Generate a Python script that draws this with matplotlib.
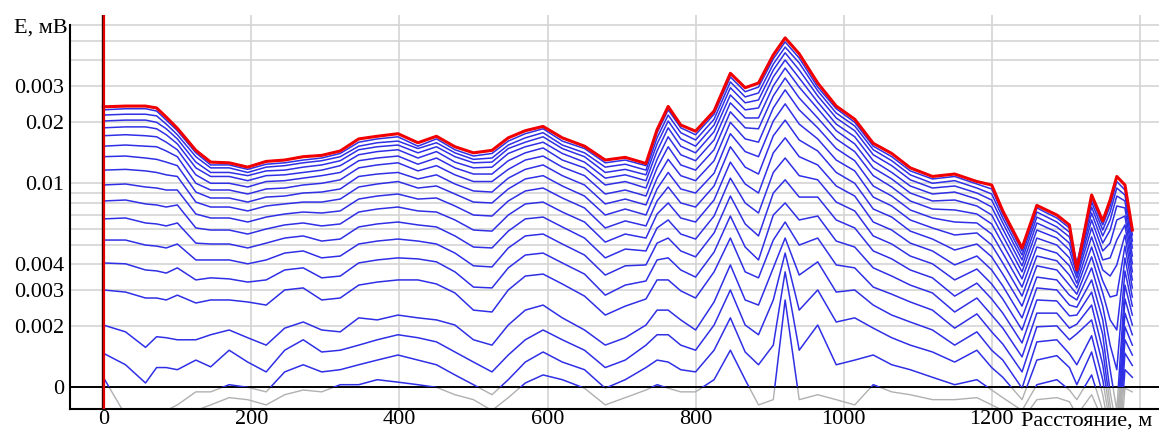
import numpy as np
import matplotlib.pyplot as plt
from matplotlib.patches import Rectangle

# пикеты профиля, м
distance = [0, 30, 57, 72, 85, 100, 125, 145, 170, 195,
            220, 245, 270, 295, 320, 345, 370, 398, 425, 450,
            475, 500, 525, 547, 570, 594, 620, 650, 678, 705,
            733, 748, 763, 780, 800, 825, 847, 867, 885, 905,
            921, 940, 965, 990, 1015, 1040, 1065, 1090, 1120, 1150,
            1180, 1200, 1215, 1241, 1261, 1288, 1305, 1315, 1335, 1350,
            1360, 1369, 1380, 1390]

# сигнал по каналам, мкВ (ch00 - первый канал, красный)
ch00 = [23.7, 23.9, 23.9, 23.4, 21.1, 18.6, 14.5, 12.7, 12.6, 12.0,
        12.8, 13.0, 13.5, 13.7, 14.4, 16.5, 17.0, 17.5, 15.8, 17.0,
        15.1, 14.1, 14.5, 16.7, 18.1, 19.0, 16.7, 15.2, 13.0, 13.4,
        12.5, 18.3, 23.8, 19.3, 18.0, 22.6, 34.6, 29.4, 31.0, 42.6,
        51.6, 43.1, 31.0, 23.9, 20.6, 15.7, 14.0, 11.9, 10.8, 11.1,
        10.2, 9.81, 7.32, 4.82, 7.79, 6.99, 6.25, 3.76, 8.76, 6.54,
        8.28, 10.8, 9.81, 5.90]
ch01 = [22.9, 23.2, 23.2, 22.6, 20.4, 18.1, 14.1, 12.3, 12.3, 11.7,
        12.4, 12.6, 13.0, 13.3, 14.0, 15.9, 16.5, 16.9, 15.2, 16.5,
        14.6, 13.6, 14.0, 16.1, 17.5, 18.5, 16.1, 14.8, 12.6, 13.0,
        12.2, 17.7, 22.9, 18.7, 17.3, 21.8, 33.2, 28.1, 29.6, 40.7,
        49.3, 41.1, 29.6, 23.2, 19.9, 15.2, 13.5, 11.5, 10.5, 10.8,
        9.92, 9.38, 7.07, 4.66, 7.57, 6.76, 6.04, 4.03, 8.47, 6.25,
        7.74, 10.2, 9.27, 5.58]
ch02 = [21.6, 21.8, 21.8, 21.4, 19.5, 17.3, 13.5, 11.9, 11.9, 11.3,
        12.0, 12.2, 12.6, 12.9, 13.5, 15.2, 15.8, 16.1, 14.8, 15.8,
        14.1, 13.1, 13.3, 15.4, 16.7, 17.7, 15.4, 14.1, 12.0, 12.4,
        11.6, 16.7, 21.6, 17.7, 16.3, 20.6, 31.4, 26.5, 27.7, 38.4,
        46.5, 38.9, 28.4, 22.1, 19.1, 14.6, 12.9, 11.0, 10.0, 10.3,
        9.48, 8.86, 6.76, 4.45, 7.23, 6.46, 5.76, 3.94, 8.09, 5.90,
        7.23, 9.48, 8.76, 5.21]
ch03 = [20.2, 20.4, 20.4, 19.9, 18.5, 16.5, 12.7, 11.3, 11.3, 10.9,
        11.5, 11.6, 12.0, 12.3, 12.9, 14.6, 15.1, 15.4, 14.1, 15.1,
        13.5, 12.6, 12.7, 14.8, 15.9, 16.9, 14.8, 13.5, 11.3, 11.7,
        11.0, 15.6, 20.2, 16.5, 15.2, 19.3, 29.4, 24.8, 25.6, 35.9,
        43.6, 35.9, 26.8, 20.9, 18.1, 13.8, 12.2, 10.4, 9.48, 9.70,
        8.96, 8.28, 6.39, 4.21, 6.83, 6.11, 5.46, 3.85, 7.65, 5.52,
        6.61, 8.66, 8.19, 4.82]
ch04 = [18.7, 18.9, 18.9, 18.5, 17.3, 15.6, 11.9, 10.8, 10.8, 10.3,
        10.9, 11.0, 11.3, 11.6, 12.2, 13.8, 14.3, 14.6, 13.3, 14.3,
        12.7, 11.9, 12.0, 14.0, 15.1, 15.9, 14.0, 12.7, 10.6, 11.0,
        10.3, 14.4, 18.7, 15.2, 14.1, 17.9, 27.1, 22.9, 23.4, 33.2,
        40.2, 32.8, 25.0, 19.5, 16.9, 12.9, 11.3, 9.70, 8.86, 9.06,
        8.37, 7.65, 5.97, 3.94, 6.39, 5.76, 5.09, 3.72, 7.15, 5.09,
        5.90, 7.74, 7.57, 4.40]
ch05 = [17.1, 17.3, 17.1, 16.9, 15.9, 14.6, 11.0, 10.0, 10.0, 9.59,
        10.2, 10.3, 10.6, 10.9, 11.3, 12.9, 13.3, 13.6, 12.4, 13.3,
        11.9, 11.1, 11.1, 12.9, 14.1, 14.9, 13.0, 11.9, 9.81, 10.2,
        9.48, 13.1, 16.9, 13.8, 12.9, 16.3, 24.8, 20.9, 20.9, 30.0,
        36.7, 29.6, 23.2, 18.1, 15.6, 11.9, 10.5, 8.96, 8.19, 8.28,
        7.74, 6.99, 5.52, 3.68, 5.90, 5.39, 4.71, 3.59, 6.61, 4.66,
        5.09, 6.61, 6.91, 4.03]
ch06 = [15.2, 15.4, 15.2, 15.1, 14.4, 13.5, 10.0, 9.27, 9.27, 8.86,
        9.38, 9.48, 9.81, 10.0, 10.4, 11.9, 12.3, 12.6, 11.5, 12.2,
        11.0, 10.2, 10.2, 11.7, 13.0, 13.6, 12.0, 10.9, 8.86, 9.27,
        8.66, 11.9, 15.1, 12.3, 11.6, 14.6, 22.4, 18.7, 18.5, 26.8,
        32.8, 26.2, 20.9, 16.5, 14.3, 10.9, 9.59, 8.19, 7.48, 7.40,
        7.07, 6.32, 5.04, 3.40, 5.39, 4.98, 4.31, 3.44, 6.04, 4.21,
        4.31, 5.27, 6.25, 3.68]
ch07 = [13.5, 13.6, 13.3, 13.1, 12.7, 12.2, 9.06, 8.47, 8.47, 8.09,
        8.56, 8.66, 8.96, 9.06, 9.38, 10.8, 11.1, 11.3, 10.5, 11.0,
        9.92, 9.17, 9.06, 10.6, 11.7, 12.3, 10.9, 9.81, 7.92, 8.37,
        7.83, 10.6, 13.1, 10.9, 10.3, 12.9, 19.9, 16.5, 15.9, 23.4,
        28.7, 22.9, 18.7, 14.8, 12.9, 9.70, 8.66, 7.40, 6.76, 6.46,
        6.39, 5.64, 4.55, 3.10, 4.87, 4.55, 3.94, 3.24, 5.46, 3.76,
        3.51, 3.98, 5.58, 3.36]
ch08 = [11.6, 11.7, 11.5, 11.3, 11.0, 10.8, 8.09, 7.65, 7.65, 7.32,
        7.74, 7.92, 8.09, 8.09, 8.37, 9.59, 9.92, 10.2, 9.48, 9.70,
        8.86, 8.09, 8.01, 9.38, 10.5, 10.9, 9.70, 8.66, 6.99, 7.48,
        6.99, 9.38, 11.3, 9.38, 8.96, 11.2, 17.5, 14.3, 13.5, 20.2,
        24.5, 19.5, 16.5, 13.0, 11.5, 8.56, 7.74, 6.61, 6.04, 5.58,
        5.71, 4.98, 4.07, 2.80, 4.40, 4.17, 3.55, 3.07, 4.87, 3.32,
        2.77, 2.83, 4.92, 3.07]
ch09 = [9.81, 9.92, 9.59, 9.48, 9.27, 9.27, 7.07, 6.76, 6.76, 6.46,
        6.83, 7.07, 7.23, 7.15, 7.32, 8.37, 8.66, 8.86, 8.37, 8.47,
        7.74, 6.99, 6.91, 8.19, 9.17, 9.48, 8.47, 7.57, 6.04, 6.54,
        6.18, 8.19, 9.59, 8.01, 7.65, 9.70, 15.1, 12.0, 11.1, 17.1,
        20.4, 16.3, 14.4, 11.3, 10.0, 7.48, 6.83, 5.83, 5.33, 4.71,
        5.04, 4.36, 3.59, 2.50, 3.94, 3.76, 3.17, 2.86, 4.36, 2.90,
        2.14, 1.91, 4.31, 2.77]
ch10 = [8.19, 8.28, 7.92, 7.83, 7.65, 7.83, 6.04, 5.90, 5.90, 5.64,
        5.97, 6.25, 6.39, 6.18, 6.32, 7.23, 7.48, 7.65, 7.32, 7.23,
        6.61, 5.90, 5.83, 6.99, 7.92, 8.09, 7.23, 6.46, 5.15, 5.64,
        5.39, 7.07, 8.01, 6.76, 6.46, 8.28, 12.7, 9.92, 8.96, 14.1,
        16.7, 13.5, 12.3, 9.70, 8.66, 6.46, 5.90, 5.09, 4.66, 3.98,
        4.40, 3.76, 3.14, 2.19, 3.47, 3.36, 2.83, 2.68, 3.85, 2.50,
        1.61, 1.22, 3.72, 2.50]
ch11 = [6.69, 6.76, 6.39, 6.32, 6.18, 6.39, 5.09, 5.04, 5.04, 4.82,
        5.09, 5.39, 5.52, 5.21, 5.33, 6.11, 6.32, 6.46, 6.25, 6.11,
        5.52, 4.87, 4.82, 5.83, 6.69, 6.83, 6.11, 5.39, 4.31, 4.76,
        4.66, 6.04, 6.61, 5.64, 5.33, 6.91, 10.6, 8.01, 7.15, 11.3,
        13.3, 10.9, 10.4, 8.09, 7.32, 5.52, 5.04, 4.40, 4.03, 3.36,
        3.80, 3.21, 2.71, 1.91, 3.07, 3.00, 2.53, 2.47, 3.36, 2.14,
        1.22, 0.77, 3.17, 2.26]
ch12 = [5.27, 5.27, 4.98, 4.92, 4.82, 5.04, 4.21, 4.21, 4.21, 4.03,
        4.21, 4.55, 4.66, 4.31, 4.40, 5.04, 5.21, 5.33, 5.21, 5.04,
        4.55, 3.94, 3.89, 4.82, 5.52, 5.64, 5.04, 4.45, 3.55, 3.94,
        3.98, 5.09, 5.39, 4.66, 4.36, 5.71, 8.66, 6.32, 5.52, 8.96,
        10.4, 8.56, 8.56, 6.61, 6.04, 4.66, 4.26, 3.76, 3.44, 2.80,
        3.24, 2.71, 2.31, 1.65, 2.68, 2.65, 2.24, 2.26, 2.93, 1.81,
        0.95, 0.62, 2.71, 2.02]
ch13 = [4.07, 4.03, 3.76, 3.72, 3.63, 3.85, 3.36, 3.44, 3.40, 3.28,
        3.36, 3.76, 3.85, 3.44, 3.51, 4.07, 4.21, 4.31, 4.26, 4.12,
        3.68, 3.10, 3.07, 3.85, 4.45, 4.55, 4.07, 3.59, 2.83, 3.17,
        3.32, 4.21, 4.31, 3.76, 3.47, 4.60, 6.91, 4.87, 4.21, 6.99,
        8.01, 6.61, 6.91, 5.21, 4.87, 3.85, 3.51, 3.17, 2.90, 2.34,
        2.74, 2.26, 1.95, 1.41, 2.31, 2.31, 1.95, 2.04, 2.53, 1.52,
        0.82, 0.55, 2.31, 1.81]
ch14 = [3.00, 2.93, 2.74, 2.74, 2.68, 2.83, 2.59, 2.68, 2.68, 2.62,
        2.53, 3.00, 3.07, 2.68, 2.74, 3.17, 3.28, 3.36, 3.36, 3.21,
        2.90, 2.39, 2.34, 3.00, 3.51, 3.59, 3.21, 2.80, 2.26, 2.50,
        2.71, 3.36, 3.36, 2.97, 2.74, 3.68, 5.39, 3.68, 3.44, 5.27,
        6.46, 4.98, 5.39, 3.98, 3.85, 3.10, 2.86, 2.62, 2.39, 1.95,
        2.29, 1.87, 1.63, 1.19, 1.98, 2.00, 1.71, 1.83, 2.14, 1.29,
        0.73, 0.49, 1.98, 1.61]
ch15 = [2.02, 1.87, 1.57, 1.77, 1.75, 1.71, 1.71, 1.81, 1.91, 1.75,
        1.61, 1.95, 2.09, 1.91, 1.87, 2.19, 2.14, 2.26, 2.19, 2.14,
        2.02, 1.71, 1.61, 2.02, 2.39, 2.53, 2.19, 1.91, 1.61, 1.75,
        2.02, 2.39, 2.39, 2.14, 1.91, 2.62, 3.98, 2.68, 2.53, 3.85,
        5.39, 3.55, 4.12, 2.93, 3.00, 2.53, 2.26, 2.09, 1.91, 1.61,
        1.87, 1.52, 1.36, 0.99, 1.67, 1.71, 1.46, 1.29, 1.79, 1.09,
        0.65, 0.44, 1.71, 1.44]
ch16 = [1.47, 1.29, 1.05, 1.25, 1.25, 1.22, 1.36, 1.26, 1.52, 1.33,
        1.19, 1.52, 1.71, 1.49, 1.52, 1.61, 1.71, 1.81, 1.75, 1.67,
        1.49, 1.33, 1.19, 1.44, 1.71, 1.91, 1.71, 1.52, 1.25, 1.36,
        1.61, 1.81, 1.81, 1.61, 1.52, 2.02, 3.00, 2.02, 1.81, 2.68,
        4.55, 2.39, 3.00, 2.09, 2.19, 1.95, 1.75, 1.61, 1.49, 1.33,
        1.52, 1.25, 1.12, 0.87, 1.36, 1.43, 1.25, 1.03, 1.49, 0.92,
        0.58, 0.39, 1.47, 1.28]
ch17 = [1.12, 0.73, 0.69, 0.73, 0.77, 0.82, 0.95, 0.95, 1.03, 1.00,
        0.95, 1.19, 1.29, 1.19, 1.22, 1.29, 1.36, 1.44, 1.36, 1.29,
        1.15, 1.03, 0.92, 1.09, 1.33, 1.49, 1.33, 1.22, 0.99, 1.09,
        1.25, 1.36, 1.33, 1.22, 1.19, 1.52, 2.19, 1.49, 1.29, 1.61,
        3.68, 1.52, 2.02, 1.29, 1.36, 1.44, 1.29, 1.22, 1.12, 1.03,
        1.09, 0.97, 0.89, 0.77, 1.03, 1.09, 0.97, 0.87, 1.15, 0.77,
        0.52, 0.35, 1.22, 1.12]
ch18 = [0.69, 0.62, 0.62, 0.62, 0.65, 0.69, 0.77, 0.82, 0.89, 0.87,
        0.82, 0.92, 0.97, 0.95, 1.03, 1.03, 1.09, 1.06, 1.03, 1.00,
        0.92, 0.87, 0.77, 0.89, 1.05, 1.15, 1.09, 0.99, 0.82, 0.89,
        0.97, 1.03, 0.99, 0.95, 0.95, 1.09, 1.52, 1.09, 0.82, 0.87,
        2.68, 0.87, 0.92, 0.87, 0.82, 1.03, 0.95, 0.92, 0.87, 0.87,
        0.89, 0.82, 0.77, 0.69, 0.87, 0.89, 0.85, 0.73, 0.92, 0.69,
        0.47, 0.31, 0.99, 0.95]

channels = [ch01, ch02, ch03, ch04, ch05, ch06, ch07, ch08, ch09,
            ch10, ch11, ch12, ch13, ch14, ch15, ch16, ch17, ch18]

ytick_vals = [0.001, 0.002, 0.003, 0.004, 0.01, 0.02, 0.03]
ytick_text = ['0', '0.002', '0.003', '0.004', '0.01', '0.02', '0.003']
xtick_vals = [0, 200, 400, 600, 800, 1000, 1200]

E0 = 0.001                 # уровень "0" на шкале
XMIN, XMAX = -45, 1426
YMIN, YMAX = 0.000783, 0.0668

plt.rcParams['font.family'] = ['Liberation Serif', 'DejaVu Serif']

W, H = 1159, 432
fig = plt.figure(figsize=(W / 100, H / 100), dpi=100)
ax = fig.add_axes([70 / W, 23 / H, (W - 70) / W, 394 / H])
ax.set_xlim(XMIN, XMAX)
ax.set_yscale('log')
ax.set_ylim(YMIN, YMAX)

# сетка
grid_kw = dict(color='#d4d4d4', lw=1.2, zorder=0)
for v in list(np.arange(2, 10) * 1e-3) + list(np.arange(1, 7) * 1e-2):
    ax.axhline(v, **grid_kw)
for v in range(200, 1401, 200):
    ax.axvline(v, **grid_kw)

# выше нуля - синим, ниже - серым
y0 = (np.log10(E0) - np.log10(YMIN)) / (np.log10(YMAX) - np.log10(YMIN))
x = np.array(distance)
for ch in channels:
    e = np.array(ch) * 1e-3
    top = Rectangle((0, y0), 1, 1 - y0, transform=ax.transAxes)
    bot = Rectangle((0, 0), 1, y0, transform=ax.transAxes)
    ln, = ax.plot(x, e, color='#2f2fe6', lw=1.1, zorder=3)
    ln.set_clip_path(top)
    lg, = ax.plot(x, e, color='#b0b0b0', lw=1.0, zorder=2)
    lg.set_clip_path(bot)

ax.plot(x, np.array(ch00) * 1e-3, color='#f00000', lw=2.2, zorder=5)

ax.axhline(E0, color='black', lw=1.4, zorder=2.5)
ax.axvline(-1.3, color='#300000', lw=1.0, zorder=6)
ax.axvline(0.6, color='#e00000', lw=1.6, zorder=6)

for s in ['top', 'right']:
    ax.spines[s].set_visible(False)
ax.spines['left'].set_bounds(YMIN, 0.06)
ax.spines['left'].set_linewidth(1.5)
ax.spines['bottom'].set_linewidth(1.5)

ax.set_yticks(ytick_vals)
ax.set_yticklabels(ytick_text)
ax.yaxis.set_minor_locator(plt.NullLocator())
ax.set_xticks(xtick_vals)
ax.set_xticklabels([str(v) for v in xtick_vals])
ax.tick_params(axis='both', length=0, labelsize=16)
ax.tick_params(axis='y', pad=4)
ax.tick_params(axis='x', pad=1)

fig.text(68 / W, 1 - 28 / H, 'E, мВ', ha='right', va='center', fontsize=16)
fig.text(1152 / W, 1 - 421 / H, 'Расстояние, м', ha='right', va='center',
         fontsize=16)

fig.savefig('out.png', dpi=100)
